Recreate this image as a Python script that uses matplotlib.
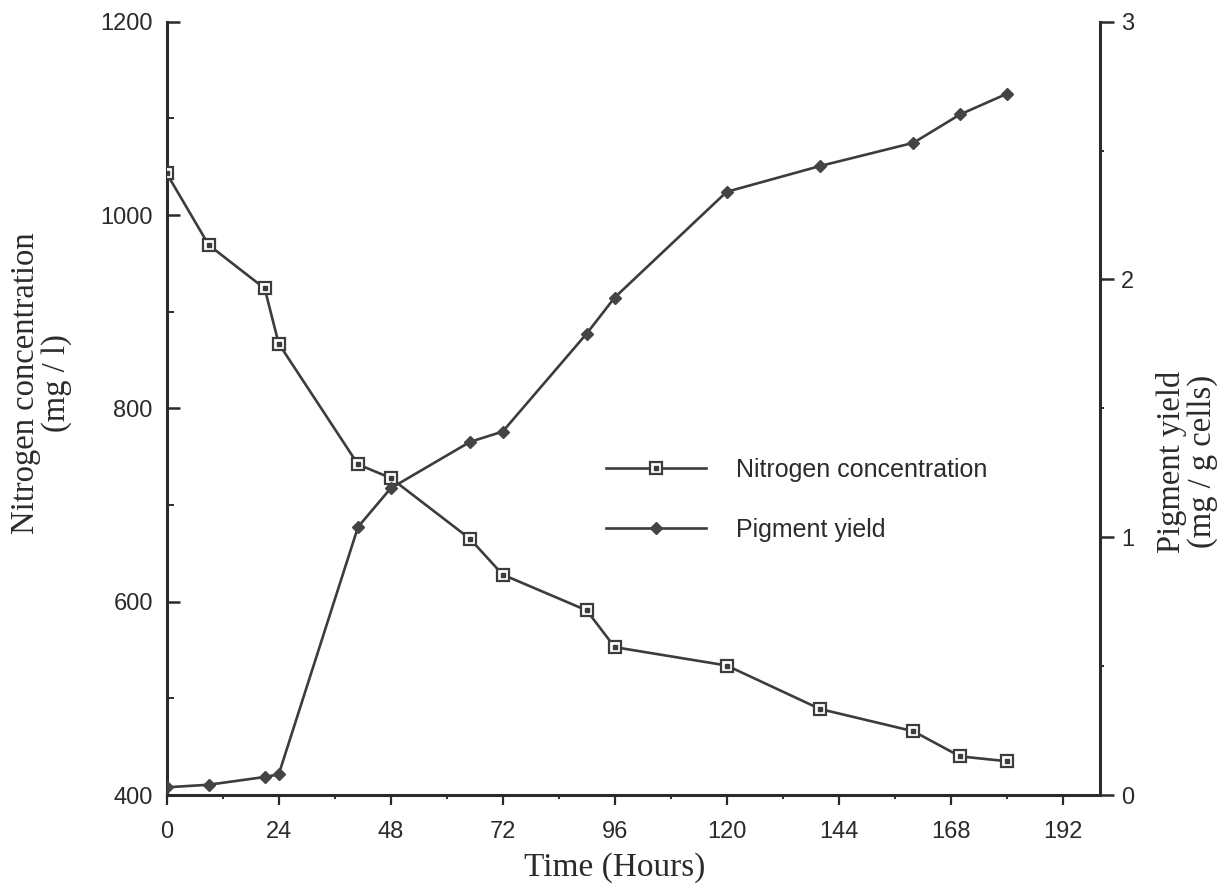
import matplotlib
matplotlib.use("Agg")
import matplotlib.pyplot as plt
from matplotlib.ticker import MultipleLocator
from matplotlib.legend_handler import HandlerTuple

# Sampling times and measured values
hours = [0, 9, 21, 24, 41, 48, 65, 72, 90, 96, 120, 140, 160, 170, 180]
nitrogen = [1043, 969, 924, 867, 742, 728, 665, 628, 591, 553, 534, 489, 466, 440, 435]
pigment = [0.03, 0.04, 0.07, 0.08, 1.04, 1.19, 1.37, 1.41, 1.79, 1.93, 2.34, 2.44, 2.53, 2.64, 2.72]

x_ticks = [0, 24, 48, 72, 96, 120, 144, 168, 192]
left_ticks = [400, 600, 800, 1000, 1200]
right_ticks = [0, 1, 2, 3]

INK = "#2b2b2b"
LINE = "#3c3c3c"
SANS = "Liberation Sans"
SERIF = "Liberation Serif"

fig = plt.figure(figsize=(12.24, 8.92), dpi=100)
ax = fig.add_axes([0.1362, 0.1087, 0.8987 - 0.1362, 0.9757 - 0.1087])
ax2 = ax.twinx()

# nitrogen: open squares with a dot in the middle
n_line, = ax.plot(hours, nitrogen, color=LINE, lw=1.9, marker="s", ms=8.5,
                  mfc="white", mec=LINE, mew=1.6, zorder=3)
n_dot, = ax.plot(hours, nitrogen, ls="none", marker="s", ms=2.2,
                 mfc=LINE, mec=LINE, zorder=4)
# pigment: filled diamonds on the right axis
p_line, = ax2.plot(hours, pigment, color=LINE, lw=1.9, marker="D", ms=6.5,
                   mfc="#444444", mec="#444444", zorder=3)

ax.set_xlim(0, 200)
ax.set_ylim(400, 1200)
ax2.set_ylim(0, 3)

ax.set_xticks(x_ticks)
ax.xaxis.set_minor_locator(MultipleLocator(12))
ax.set_yticks(left_ticks)
ax.yaxis.set_minor_locator(MultipleLocator(100))
ax2.set_yticks(right_ticks)
ax2.yaxis.set_minor_locator(MultipleLocator(0.5))

for a in (ax, ax2):
    a.spines["top"].set_visible(False)
    for s in a.spines.values():
        s.set_linewidth(2.2)
        s.set_color(INK)
ax.spines["right"].set_visible(False)
ax2.spines["left"].set_visible(False)
ax2.spines["bottom"].set_visible(False)

ax.tick_params(axis="x", which="major", direction="out", length=7, width=1.6,
               pad=12, colors=INK, labelsize=17)
ax.tick_params(axis="x", which="minor", direction="out", length=3, width=1.4, colors=INK)
ax.tick_params(axis="y", which="major", direction="in", length=9, width=1.8,
               pad=10, colors=INK, labelsize=17)
ax.tick_params(axis="y", which="minor", direction="in", length=5, width=1.4, colors=INK)
ax2.tick_params(axis="y", which="major", direction="out", length=10, width=1.8,
                pad=5, colors=INK, labelsize=17)
ax2.tick_params(axis="y", which="minor", direction="out", length=3, width=1.4, colors=INK)

for lab in ax.get_xticklabels() + ax.get_yticklabels() + ax2.get_yticklabels():
    lab.set_fontfamily(SANS)

ax.text(0.48, -0.094, "Time (Hours)", transform=ax.transAxes, ha="center", va="center",
        fontsize=24, family=SERIF, color=INK)
ax.text(-0.134, 0.533, "Nitrogen concentration\n(mg / l)", transform=ax.transAxes,
        ha="center", va="center", rotation=90, multialignment="center",
        fontsize=23.5, family=SERIF, color=INK, linespacing=1.0)
ax.text(1.093, 0.431, "Pigment yield\n(mg / g cells)", transform=ax.transAxes,
        ha="center", va="center", rotation=90, multialignment="center",
        fontsize=23.5, family=SERIF, color=INK, linespacing=1.0)

leg = ax.legend([(n_line, n_dot), p_line], ["Nitrogen concentration", "Pigment yield"],
                handler_map={tuple: HandlerTuple(ndivide=1)},
                loc="upper left", bbox_to_anchor=(0.471, 0.436), frameon=False,
                borderpad=0, borderaxespad=0, handlelength=4.0, handletextpad=1.2,
                labelspacing=1.45, prop={"family": SANS, "size": 18})
for t in leg.get_texts():
    t.set_color(INK)

fig.savefig("out.png", dpi=100, facecolor="white")
